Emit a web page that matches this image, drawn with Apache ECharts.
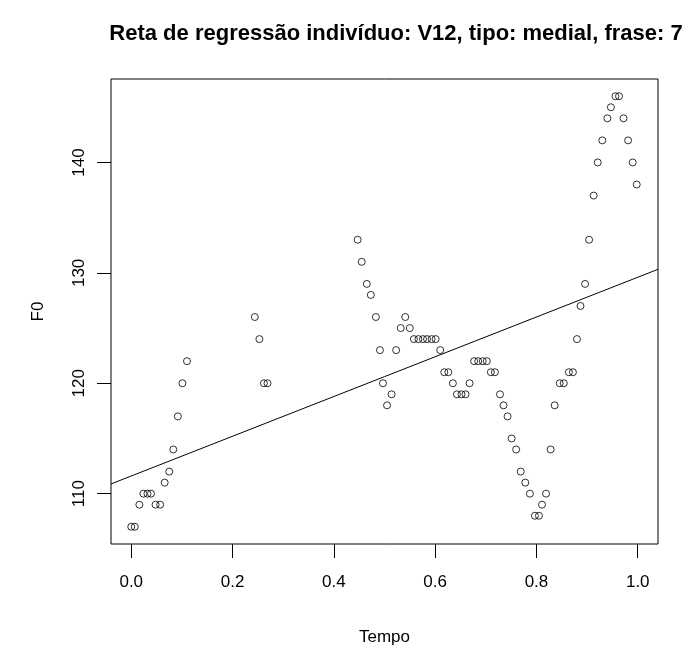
<!DOCTYPE html>
<html>
<head>
<meta charset="utf-8">
<script src="https://cdn.jsdelivr.net/npm/echarts@6/dist/echarts.min.js"></script>
<style>html,body{margin:0;padding:0;background:#fff}#c{width:691px;height:651px}</style>
</head>
<body>
<div id="c"></div>
<script>
// Data
var tempo = [0.000,0.007,0.016,0.024,0.032,0.039,0.048,0.057,0.066,0.075,0.083,0.092,0.101,0.110,
  0.244,0.253,0.262,0.269,
  0.447,0.455,0.465,0.473,0.483,0.491,0.497,0.505,0.514,0.523,0.532,0.541,0.550,
  0.558,0.567,0.576,0.584,0.593,0.601,0.610,0.618,0.626,0.635,0.643,0.652,0.660,0.668,
  0.677,0.685,0.694,0.702,0.710,0.718,0.728,0.735,0.743,0.751,0.760,0.769,0.778,0.787,
  0.797,0.805,0.811,0.819,0.828,0.836,0.846,0.854,0.864,0.872,0.880,0.887,0.896,0.904,
  0.913,0.921,0.930,0.940,0.947,0.956,0.963,0.972,0.981,0.990,0.998];
var f0 = [107,107,109,110,110,110,109,109,111,112,114,117,120,122,
  126,124,120,120,
  133,131,129,128,126,123,120,118,119,123,125,126,125,
  124,124,124,124,124,124,123,121,121,120,119,119,119,120,
  122,122,122,122,121,121,119,118,117,115,114,112,111,110,
  108,108,109,110,114,118,120,120,121,121,124,127,129,133,
  137,140,142,144,145,146,146,144,142,140,138];
var xTicks = [0.0,0.2,0.4,0.6,0.8,1.0];
var yTicks = [110,120,130,140];
var intercept = 111.6;
var slope = 18.0;

var xMin = -0.04, xMax = 1.04, yMin = 105.44, yMax = 147.56;
var pts = tempo.map(function(t,i){return [t,f0[i]];});
var linePts = [[xMin, intercept + slope*xMin],[xMax, intercept + slope*xMax]];
var font = 'Liberation Sans, Arial, sans-serif';

var chart = echarts.init(document.getElementById('c'), null, {renderer:'canvas'});
chart.setOption({
  backgroundColor:'#fff',
  animation:false,
  title:{text:'Reta de regressão indivíduo: V12, tipo: medial, frase: 7',
    left:391, top:18, textAlign:'center',
    textStyle:{fontFamily:font,fontWeight:'bold',fontSize:22,color:'#000'}},
  grid:{left:111,right:33,top:79,bottom:107,show:true,borderColor:'#000',borderWidth:1,backgroundColor:'transparent'},
  xAxis:{type:'value',min:xMin,max:xMax,
    name:'Tempo',nameLocation:'middle',nameGap:85,
    nameTextStyle:{fontFamily:font,fontSize:17,color:'#000'},
    axisLine:{show:false,onZero:false},
    splitLine:{show:false},
    axisTick:{show:true,length:14,customValues:xTicks,lineStyle:{color:'#000',width:1}},
    axisLabel:{customValues:xTicks,margin:30,fontFamily:font,fontSize:17,color:'#000',
      formatter:function(v){return v.toFixed(1);}}},
  yAxis:{type:'value',min:yMin,max:yMax,
    name:'F0',nameLocation:'middle',nameGap:64,
    nameTextStyle:{fontFamily:font,fontSize:17,color:'#000'},
    axisLine:{show:false,onZero:false},
    splitLine:{show:false},
    axisTick:{show:true,length:14,customValues:yTicks,lineStyle:{color:'#000',width:1}},
    axisLabel:{customValues:yTicks,margin:23,rotate:90,fontFamily:font,fontSize:17,color:'#000'}},
  series:[
    {type:'scatter',data:pts,symbol:'circle',symbolSize:7,
      itemStyle:{color:'rgba(255,255,255,0)',borderColor:'#000',borderWidth:1}},
    {type:'line',data:linePts,symbol:'none',clip:true,
      lineStyle:{color:'#000',width:1}}
  ]
});
</script>
</body>
</html>
